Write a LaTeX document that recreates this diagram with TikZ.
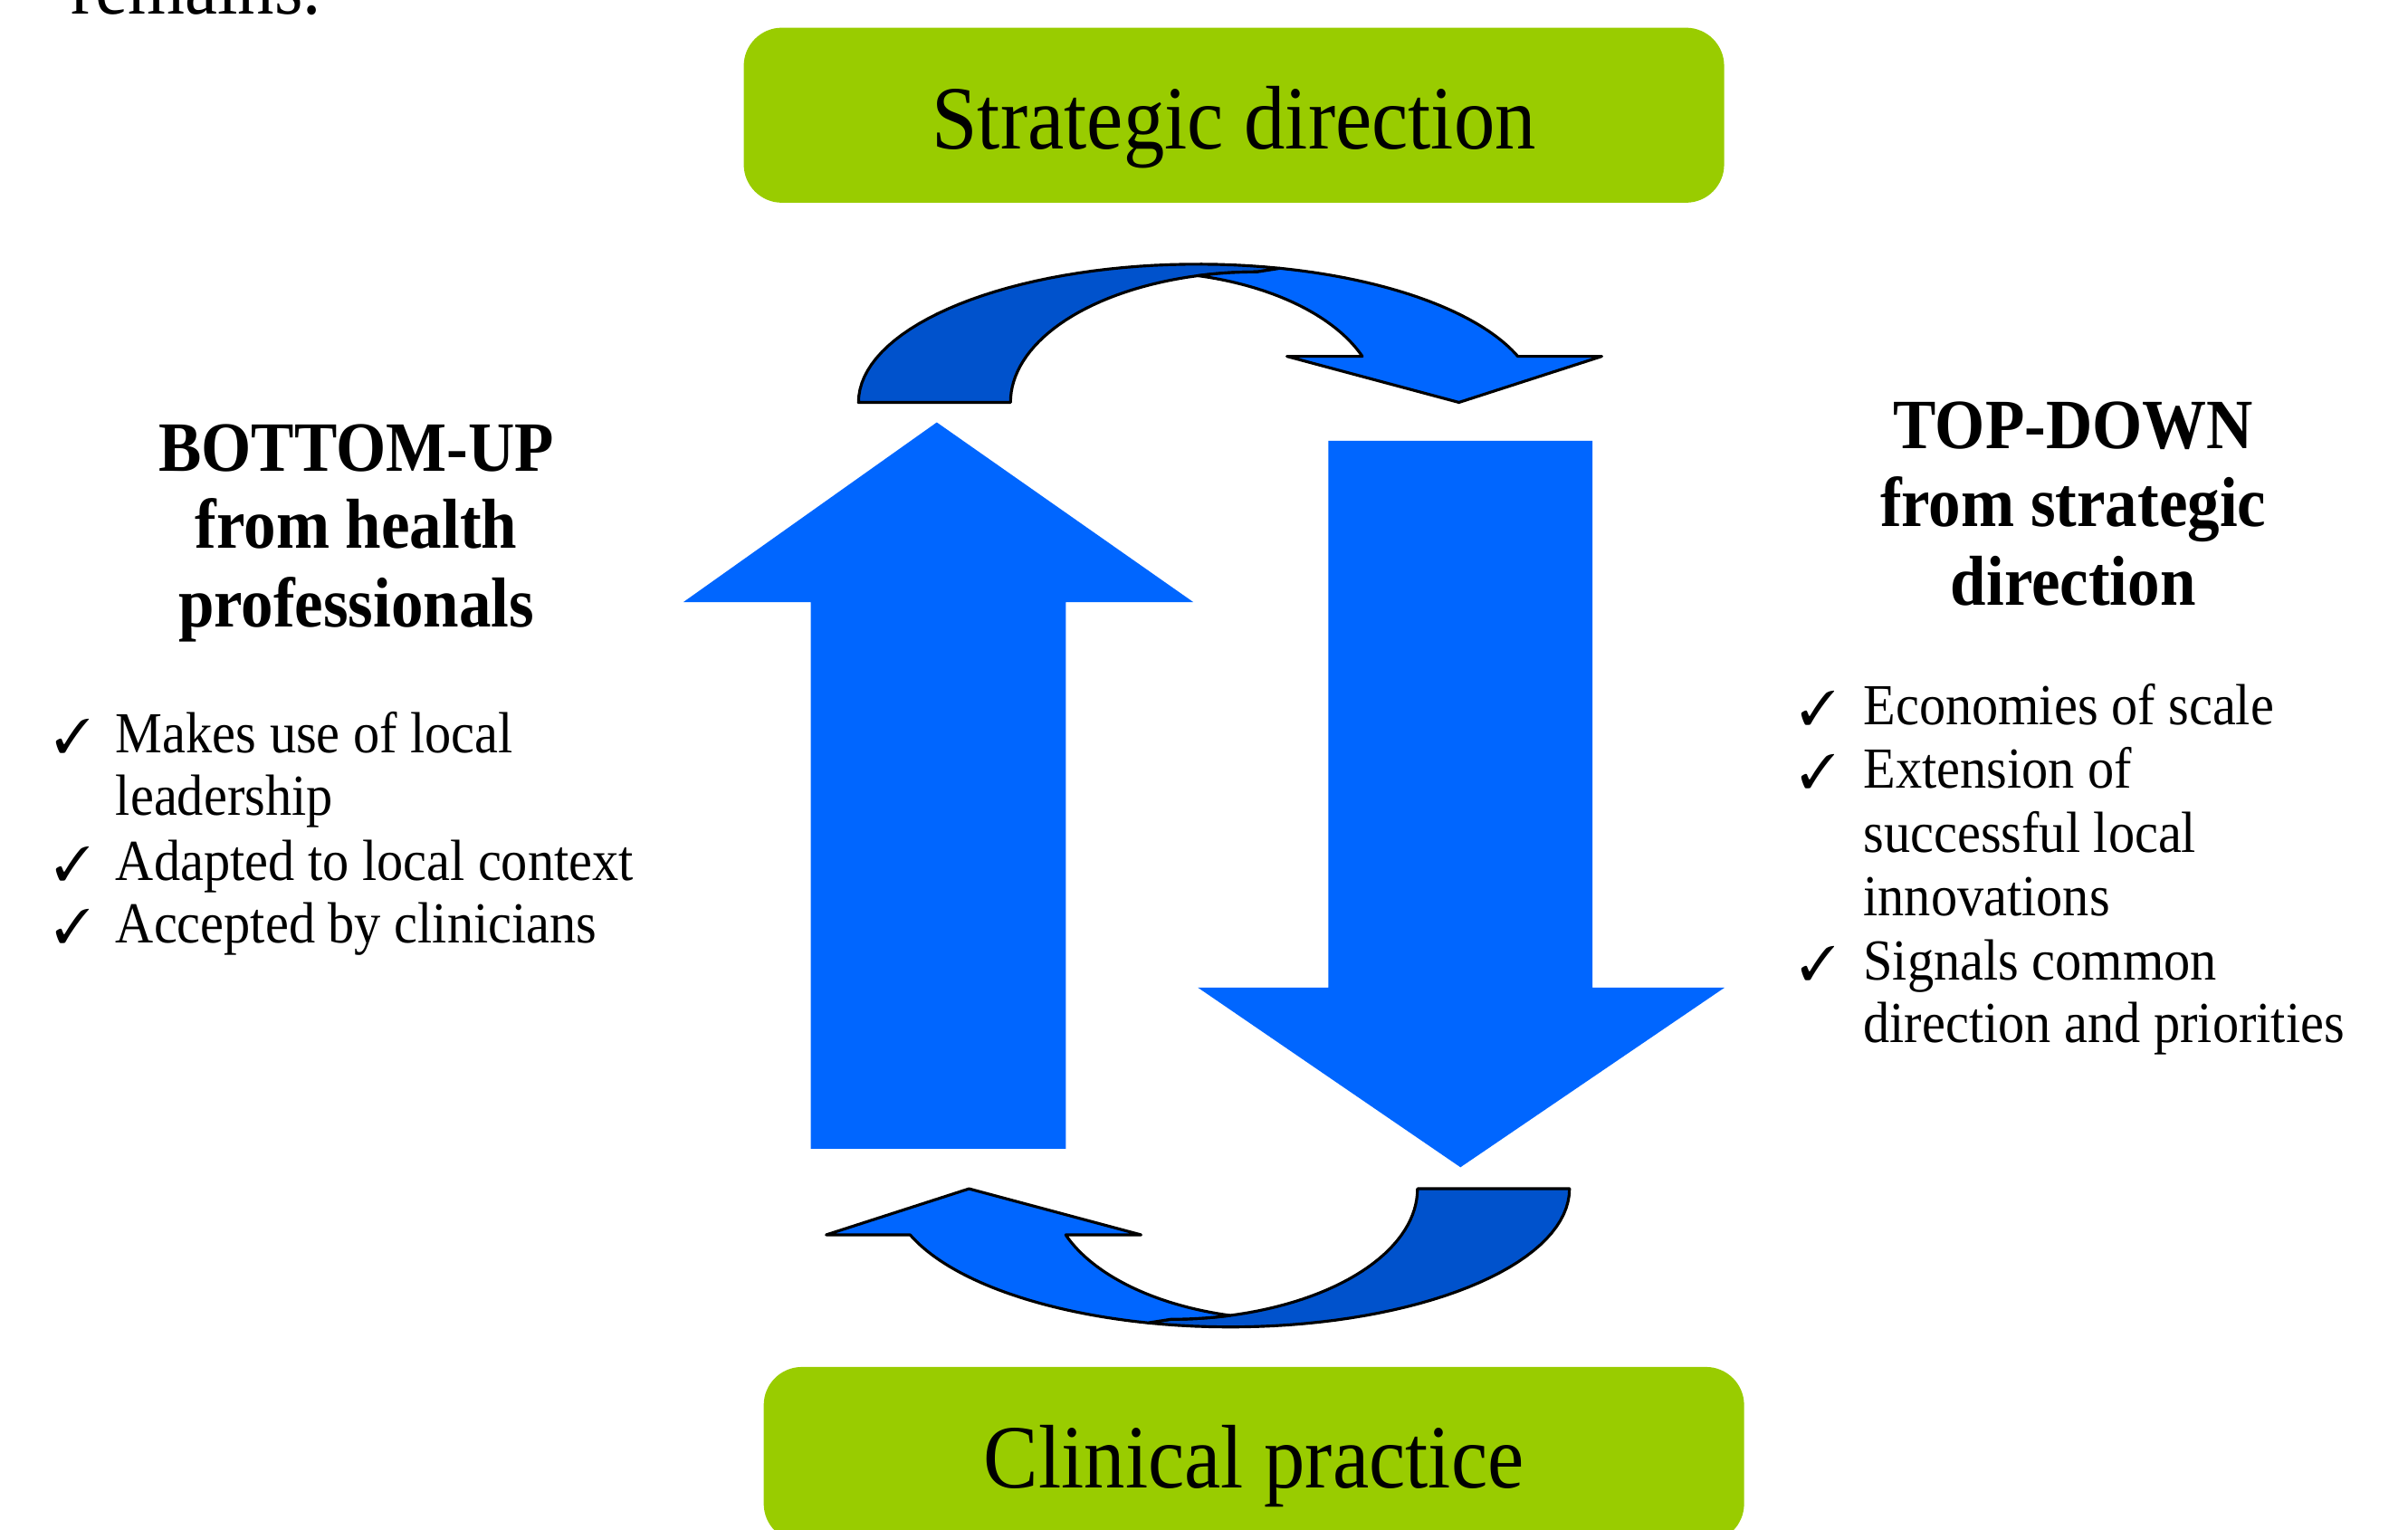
\documentclass[tikz,border=0pt]{standalone}
\usepackage{fontspec}
\setmainfont{Liberation Serif}
\usepackage{pifont}
\usepackage{graphicx}
\definecolor{boxgreen}{RGB}{153,204,0}
\definecolor{arrowblue}{RGB}{0,102,255}
\definecolor{darkblue}{RGB}{0,82,204}
\newcommand{\vst}[1]{\scalebox{1}[1.1]{#1}}
\tikzset{
  box/.style={fill=boxgreen, rounded corners=12pt, minimum width=308.2pt, minimum height=55pt,
    inner sep=0pt, text height=26pt, text depth=5pt, font=\fontsize{25.8}{30}\selectfont},
  hdr/.style={anchor=base, inner sep=0pt, font=\fontsize{20.2}{24}\selectfont\bfseries},
  item/.style={anchor=base west, inner sep=0pt, font=\fontsize{16.6}{20}\selectfont},
  tick/.style={anchor=base west, inner sep=0pt, font=\fontsize{15}{18}\selectfont},
  bigarrow/.style={fill=arrowblue},
  bandlight/.style={fill=arrowblue, draw=black, line width=0.9pt, line join=round},
  banddark/.style={fill=darkblue, draw=black, line width=0.9pt, line join=round},
}
\newcommand{\curvedarrowshape}{%
  \draw[banddark] plot[domain=180:76, samples=40] ({780+221*cos(\x)},{262-90*sin(\x)})
    -- (818.6,177)
    -- plot[domain=90:180, samples=40] ({818.6+160.6*cos(\x)},{262-85*sin(\x)}) -- cycle;
  \draw[bandlight] (780,179.5)
    -- plot[domain=103.92:90, samples=8] ({818.6+160.6*cos(\x)},{262-85*sin(\x)})
    -- plot[domain=76:19.47, samples=40] ({780+221*cos(\x)},{262-90*sin(\x)})
    -- (1043,232) -- (950,262) -- (838,232)
    -- plot[domain=20.67:76.08, samples=40] ({743+154*cos(\x)},{262-85*sin(\x)}) -- cycle;
}
\begin{document}
\begin{tikzpicture}[x=0.016964cm, y=-0.016964cm]
  \path[use as bounding box, clip] (0,0) rectangle (1568,996);

  % partial text at top left
  \node[anchor=base west, inner sep=0pt, font=\fontsize{23}{27}\selectfont] (rem) at (46,9) {\vst{remains.}};

  % boxes
  \node[box] (sd) at (803.5,75) {\vst{Strategic direction}};
  \node[box] (cp) at (816.5,947) {\vst{Clinical practice}};

  % big arrows
  \fill[bigarrow] (610,275) -- (777,392) -- (694,392) -- (694,748) -- (528,748) -- (528,392) -- (445,392) -- cycle;
  \fill[bigarrow] (865,287) -- (1037,287) -- (1037,643) -- (1123,643) -- (951,760) -- (780,643) -- (865,643) -- cycle;

  % curved arrows
  \begin{scope}
    \curvedarrowshape
  \end{scope}
  \begin{scope}[rotate around={180:(790.5,518)}]
    \curvedarrowshape
  \end{scope}

  % left text
  \node[hdr] (bu1) at (232,307) {\vst{BOTTOM-UP}};
  \node[hdr] (bu2) at (232,357) {\vst{from health}};
  \node[hdr] (bu3) at (232,408) {\vst{professionals}};
  \node[tick] (lt1) at (35,490) {\ding{51}};
  \node[item] (li1) at (75,490) {\vst{Makes use of local}};
  \node[item] (li1b) at (75,531) {\vst{leadership}};
  \node[tick] (lt2) at (35,573) {\ding{51}};
  \node[item] (li2) at (75,573) {\vst{Adapted to local context}};
  \node[tick] (lt3) at (35,614) {\ding{51}};
  \node[item] (li3) at (75,614) {\vst{Accepted by clinicians}};

  % right text
  \node[hdr] (td1) at (1350,292) {\vst{TOP-DOWN}};
  \node[hdr] (td2) at (1350,343) {\vst{from strategic}};
  \node[hdr] (td3) at (1350,394) {\vst{direction}};
  \node[tick] (rt1) at (1172,472) {\ding{51}};
  \node[item] (ri1) at (1213,472) {\vst{Economies of scale}};
  \node[tick] (rt2) at (1172,513) {\ding{51}};
  \node[item] (ri2) at (1213,513) {\vst{Extension of}};
  \node[item] (ri2b) at (1213,555) {\vst{successful local}};
  \node[item] (ri2c) at (1213,596) {\vst{innovations}};
  \node[tick] (rt3) at (1172,638) {\ding{51}};
  \node[item] (ri3) at (1213,638) {\vst{Signals common}};
  \node[item] (ri3b) at (1213,679) {\vst{direction and priorities}};
\end{tikzpicture}
\end{document}
